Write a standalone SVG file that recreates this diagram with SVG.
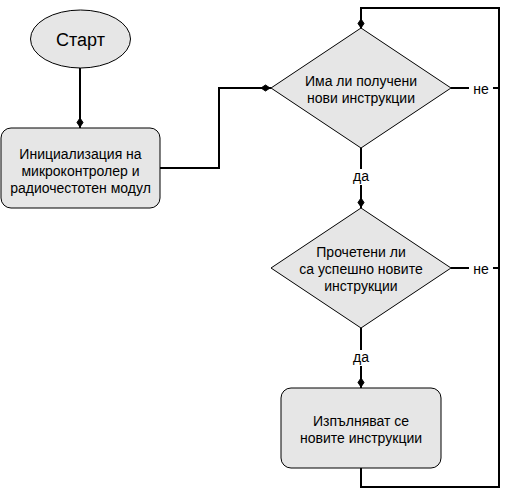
<svg xmlns="http://www.w3.org/2000/svg" width="510" height="497" viewBox="0 0 510 497">
<style>
.shape{fill:#e6e6e6;stroke:#000;stroke-width:1}
.t{font-family:"Liberation Sans",Arial,sans-serif;font-size:14px;fill:#000;text-anchor:middle}
.big{font-size:18px}
.edge{fill:none;stroke:#000;stroke-width:2}
.lblbg{fill:#fff}
</style>
<defs>
<marker id="dia" markerUnits="userSpaceOnUse" markerWidth="12" markerHeight="8" viewBox="0 -4 12 8" refX="11" refY="0" orient="auto">
<path d="M1,0 L5.5,-3 L10,0 L5.5,3 Z" fill="#000" stroke="#000" stroke-width="1"/>
</marker>
</defs>
<rect width="510" height="497" fill="#fff"/>
<g id="connectors">
<path class="edge" d="M80,68 V128" marker-end="url(#dia)"/>
<path class="edge" d="M160,168 H219 V88 H271" marker-end="url(#dia)"/>
<path class="edge" d="M361,148 V208" marker-end="url(#dia)"/>
<path class="edge" d="M361,328 V388" marker-end="url(#dia)"/>
<path class="edge" d="M361,468 V487 H499 V8 H361 V29" marker-end="url(#dia)"/>
<path class="edge" d="M451,88 H499"/>
<path class="edge" d="M451,268 H499"/>
<g id="label-ne1"><rect class="lblbg" x="469" y="80" width="24" height="17"/><text class="t" x="481" y="94">не</text></g>
<g id="label-ne2"><rect class="lblbg" x="469" y="260" width="24" height="17"/><text class="t" x="481" y="274">не</text></g>
<g id="label-da1"><rect class="lblbg" x="351" y="169" width="20" height="16"/><text class="t" x="361" y="181">да</text></g>
<g id="label-da2"><rect class="lblbg" x="351" y="350" width="20" height="16"/><text class="t" x="361" y="362">да</text></g>
</g>
<g id="start">
<ellipse class="shape" cx="80.5" cy="39" rx="50" ry="29"/>
<text class="t big" x="80.5" y="45.5">Старт</text>
</g>
<g id="init">
<rect class="shape" x="1" y="128" width="159" height="80" rx="10" ry="10"/>
<text class="t" x="80.5" y="159">Инициализация на</text>
<text class="t" x="80.5" y="176">микроконтролер и</text>
<text class="t" x="80.5" y="193">радиочестотен модул</text>
</g>
<g id="decision1">
<path class="shape" d="M361,28 L451,88 L361,148 L271,88 Z"/>
<text class="t" x="361" y="86">Има ли получени</text>
<text class="t" x="361" y="103">нови инструкции</text>
</g>
<g id="decision2">
<path class="shape" d="M361,208 L451,268 L361,328 L271,268 Z"/>
<text class="t" x="361" y="257">Прочетени ли</text>
<text class="t" x="361" y="274">са успешно новите</text>
<text class="t" x="361" y="291">инструкции</text>
</g>
<g id="execute">
<rect class="shape" x="281" y="388" width="160" height="80" rx="10" ry="10"/>
<text class="t" x="361" y="426">Изпълняват се</text>
<text class="t" x="361" y="443">новите инструкции</text>
</g>
</svg>
